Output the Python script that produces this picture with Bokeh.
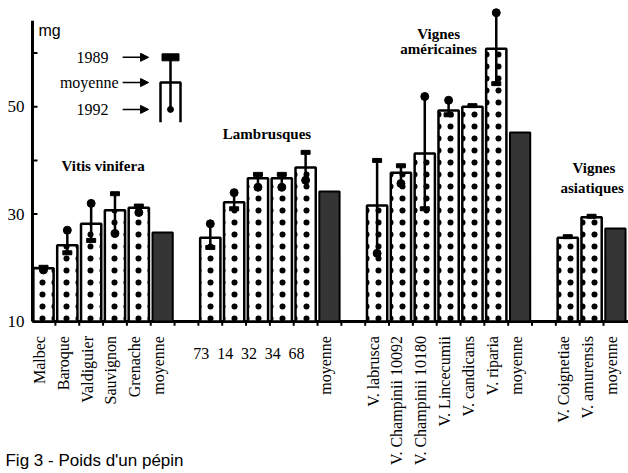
import math
from bokeh.plotting import figure
from bokeh.models import Range1d, Arrow, NormalHead
from bokeh.core.properties import value
from bokeh.embed import file_html
from bokeh.resources import INLINE

nan = float("nan")

# ---------------- data (mg per seed) ----------------
vinifera_names = ["Malbec", "Baroque", "Valdiguier", "Sauvignon", "Grenache"]
vinifera_mean = [19.9, 24.2, 28.2, 30.7, 31.2]
vinifera_1989 = [20.1, 22.8, 25.1, 33.8, 31.5]
vinifera_1992 = [19.6, 27.0, 32.0, 26.4, 30.3]
vinifera_moyenne = 26.6

lambrusques_names = ["73", "14", "32", "34", "68"]
lambrusques_mean = [25.6, 32.2, 36.7, 36.7, 38.7]
lambrusques_1989 = [23.8, 31.0, 37.4, 37.4, 41.5]
lambrusques_1992 = [28.2, 34.0, 35.0, 35.0, 36.3]
lambrusques_moyenne = 34.2

americaines_names = ["V. labrusca", "V. Champinii 10092", "V. Champinii 10180",
                     "V. Lincecumii", "V. candicans", "V. riparia"]
americaines_mean = [31.6, 37.7, 41.3, 49.3, 50.0, 60.8]
americaines_1989 = [40.0, 39.0, 31.0, 48.5, 50.2, 54.3]
americaines_1992 = [22.7, 35.7, 51.9, 51.2, nan, 67.5]
americaines_moyenne = 45.2

asiatiques_names = ["V. Coignetiae", "V. amurensis"]
asiatiques_mean = [25.6, 29.4]
asiatiques_1989 = [25.8, 29.6]
asiatiques_1992 = [nan, nan]
asiatiques_moyenne = 27.3

moyenne_label = "moyenne"
y_ticks = [10, 20, 30, 40, 50, 60]
y_tick_labels = ["10", "", "30", "", "50", ""]
y_axis_top = 66

# legend key values
legend_1989 = 59.2
legend_mean = 54.5
legend_1992 = 49.5
legend_bottom = 47.1

# ---------------- layout helpers ----------------
groups = [
    (vinifera_names, vinifera_mean, vinifera_1989, vinifera_1992, vinifera_moyenne, True),
    (lambrusques_names, lambrusques_mean, lambrusques_1989, lambrusques_1992, lambrusques_moyenne, False),
    (americaines_names, americaines_mean, americaines_1989, americaines_1992, americaines_moyenne, True),
    (asiatiques_names, asiatiques_mean, asiatiques_1989, asiatiques_1992, asiatiques_moyenne, True),
]

bar_x, bar_top, bar_89, bar_92 = [], [], [], []
moy_x, moy_top = [], []
rot_x, rot_text = [], []
hor_x, hor_text = [], []
slot = 0
for names, means, v89, v92, moy, rotated in groups:
    for n, m, a, b in zip(names, means, v89, v92):
        bar_x.append(slot); bar_top.append(m); bar_89.append(a); bar_92.append(b)
        if rotated:
            rot_x.append(slot); rot_text.append(n)
        else:
            hor_x.append(slot); hor_text.append(n)
        slot += 1
    moy_x.append(slot); moy_top.append(moy)
    rot_x.append(slot); rot_text.append(moyenne_label)
    slot += 2

BASE = 10
W = 628
H = 473
x_start, x_end = -1.804, 24.549
y_start, y_end = -18.30, 69.78
SPINE_X = -0.462

SERIF = "Liberation Serif"

p = figure(width=W, height=H, output_backend="svg", toolbar_location=None,
           x_range=Range1d(x_start, x_end), y_range=Range1d(y_start, y_end),
           x_axis_location=None, y_axis_location=None,
           min_border_left=0, min_border_right=0, min_border_top=0, min_border_bottom=0)
p.xgrid.visible = False
p.ygrid.visible = False
p.outline_line_color = None

# ---- value axis (spine, inward ticks, labels) ----
p.segment(x0=[SPINE_X], y0=[BASE], x1=[SPINE_X], y1=[y_axis_top], line_color="black", line_width=3)
p.segment(x0=[SPINE_X] * len(y_ticks), y0=y_ticks, x1=[SPINE_X + 0.21] * len(y_ticks), y1=y_ticks,
          line_color="black", line_width=2)
p.text(x=[-0.80] * len(y_ticks), y=y_ticks, text=y_tick_labels, text_align="right",
       text_baseline="middle", text_font=value(SERIF), text_font_size="17px", text_color="black")

# ---- category baseline and ticks ----
p.segment(x0=[SPINE_X], y0=[BASE], x1=[x_end], y1=[BASE], line_color="black", line_width=3)
tick_x = [i - 0.5 for i in range(1, slot - 1)]
p.segment(x0=tick_x, y0=[BASE] * len(tick_x), x1=tick_x, y1=[BASE - 0.8] * len(tick_x),
          line_color="black", line_width=2)

# bars
p.vbar(x=bar_x, top=bar_top, bottom=BASE, width=0.85, fill_color="white",
       line_color="black", line_width=2.5, hatch_pattern="dot", hatch_color="black",
       hatch_scale=12, hatch_weight=2.0)
p.vbar(x=moy_x, top=moy_top, bottom=BASE, width=0.85, fill_color="#353535",
       line_color="black", line_width=2)

# whiskers: 1989 (square cap) to 1992 (dot)
p.segment(x0=bar_x, y0=bar_89, x1=bar_x, y1=bar_92, line_color="black", line_width=2.5)
p.rect(x=bar_x, y=bar_89, width=9, height=4, width_units="screen", height_units="screen",
       fill_color="black", line_color="black")
p.scatter(x=bar_x, y=bar_92, size=8, marker="circle", fill_color="black", line_color="black")

# category labels
p.text(x=rot_x, y=[7.3] * len(rot_x), text=rot_text, angle=math.pi / 2,
       text_align="right", text_baseline="middle", text_font=value(SERIF),
       text_font_size="16px", text_color="black", x_offset=-4)
p.text(x=hor_x, y=[4.0] * len(hor_x), text=hor_text, text_align="center",
       text_baseline="middle", text_font=value(SERIF), text_font_size="16px",
       text_color="black", x_offset=-9)

# group titles
p.text(x=[2.50, 9.38, 16.58, 16.58, 23.10, 23.02],
       y=[39.05, 45.0, 63.63, 60.84, 38.68, 34.95],
       text=["Vitis vinifera", "Lambrusques", "Vignes", "américaines", "Vignes", "asiatiques"],
       text_align="center", text_baseline="middle", text_font=value(SERIF),
       text_font_style="bold", text_font_size="15px", text_color="black")

# unit
p.text(x=[-0.21], y=[64.19], text=["mg"], text_align="left", text_baseline="middle",
       text_font=value("Liberation Sans"), text_font_size="16px", text_color="black")

# legend key
leg_x = 5.33
hw = 0.42
p.text(x=[2.73, 3.15, 2.73], y=[legend_1989, legend_mean, legend_1992],
       text=["1989", "moyenne", "1992"], text_align="right", text_baseline="middle",
       text_font=value(SERIF), text_font_size="16px", text_color="black")
for yy in (legend_1989, legend_mean, legend_1992):
    p.add_layout(Arrow(end=NormalHead(size=8, fill_color="black", line_color="black"),
                       x_start=3.32, y_start=yy, x_end=4.41, y_end=yy,
                       line_color="black", line_width=1.5))
p.line(x=[leg_x - hw, leg_x - hw, leg_x + hw, leg_x + hw],
       y=[legend_bottom, legend_mean, legend_mean, legend_bottom],
       line_color="black", line_width=2.5)
p.segment(x0=[leg_x], y0=[legend_1989], x1=[leg_x], y1=[legend_1992],
          line_color="black", line_width=2.5)
p.rect(x=[leg_x], y=[legend_1989], width=17, height=7, width_units="screen",
       height_units="screen", fill_color="black", line_color="black")
p.scatter(x=[leg_x], y=[legend_1992], size=6, marker="circle", fill_color="black",
          line_color="black")

# caption
p.text(x=[-1.595], y=[-15.88], text=["Fig 3 - Poids d'un pépin"], text_align="left",
       text_baseline="middle", text_font=value("Liberation Sans"), text_font_size="17px",
       text_color="black")

open("out.html", "w").write(file_html(p, INLINE))
